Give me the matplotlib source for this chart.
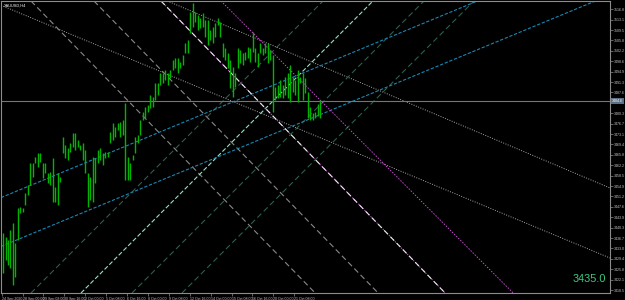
import numpy as np
import matplotlib
matplotlib.use("Agg")
from matplotlib import pyplot as plt
from matplotlib import transforms as mtrans

plt.rcParams['font.family'] = ['Liberation Sans', 'DejaVu Sans']

###--- H4 bars (high / low) ---###
highs = [3438.5, 3437.1, 3436.0, 3439.5, 3442.0, 3435.0, 3447.2, 3447.6, 3447.2, 3452.5,
         3455.3, 3463.0, 3463.0, 3465.1, 3466.5, 3466.5, 3463.0, 3463.0, 3459.5, 3459.8,
         3464.7, 3454.6, 3459.5, 3458.1, 3472.1, 3469.3, 3468.2, 3470.0, 3473.5, 3473.5,
         3471.0, 3469.3, 3470.0, 3467.5, 3459.5, 3458.1, 3465.1, 3464.7, 3467.5, 3468.2,
         3466.5, 3466.8, 3466.8, 3473.8, 3477.0, 3475.6, 3477.0, 3477.3, 3478.0, 3484.0,
         3465.1, 3463.0, 3465.8, 3472.1, 3472.8, 3478.0, 3480.8, 3482.6, 3483.3, 3486.8,
         3486.1, 3491.0, 3491.0, 3494.5, 3494.5, 3495.5, 3494.5, 3495.5, 3499.0, 3499.7,
         3499.7, 3498.3, 3500.8, 3505.0, 3506.0, 3515.8, 3519.0, 3515.8, 3514.8, 3513.7,
         3515.5, 3513.0, 3513.0, 3509.5, 3510.6, 3512.0, 3513.7, 3512.3, 3505.0, 3503.2,
         3501.5, 3499.0, 3496.6, 3494.5, 3503.2, 3502.5, 3501.5, 3501.8, 3503.6, 3503.2,
         3508.8, 3503.2, 3501.5, 3505.0, 3503.2, 3505.0, 3505.0, 3502.5, 3500.8, 3489.6,
         3490.3, 3492.0, 3490.3, 3493.1, 3494.5, 3497.3, 3493.1, 3492.0, 3495.5, 3493.1,
         3494.5, 3492.7, 3487.8, 3482.6, 3480.5, 3480.8, 3483.6, 3485.0]
lows = [3424.5, 3429.0, 3427.3, 3426.2, 3420.3, 3423.1, 3436.0, 3445.5, 3445.8, 3448.3,
        3451.8, 3455.3, 3458.1, 3463.0, 3461.6, 3463.3, 3457.7, 3459.5, 3456.0, 3455.3,
        3449.3, 3449.3, 3448.3, 3456.3, 3466.5, 3464.7, 3464.0, 3466.8, 3468.6, 3467.5,
        3468.6, 3467.5, 3464.0, 3459.5, 3447.6, 3450.0, 3449.3, 3456.0, 3463.0, 3464.0,
        3462.3, 3464.7, 3465.1, 3470.0, 3471.0, 3472.1, 3474.5, 3472.1, 3472.8, 3457.0,
        3457.0, 3457.0, 3464.0, 3466.5, 3470.0, 3472.8, 3478.0, 3478.7, 3480.8, 3482.2,
        3482.6, 3485.0, 3486.8, 3490.3, 3491.0, 3492.0, 3490.3, 3492.7, 3495.5, 3496.2,
        3494.5, 3496.2, 3497.3, 3501.5, 3501.5, 3508.5, 3510.6, 3512.3, 3509.5, 3510.2,
        3510.6, 3507.1, 3504.3, 3506.0, 3505.0, 3507.1, 3511.3, 3507.1, 3500.1, 3499.0,
        3496.2, 3489.2, 3486.1, 3489.6, 3496.2, 3498.0, 3497.3, 3499.0, 3499.7, 3498.3,
        3501.8, 3498.3, 3496.6, 3501.5, 3500.8, 3501.5, 3498.0, 3499.0, 3480.8, 3485.0,
        3485.7, 3486.1, 3485.7, 3486.8, 3485.7, 3484.3, 3487.8, 3486.8, 3484.3, 3491.0,
        3485.0, 3487.5, 3478.7, 3478.0, 3478.0, 3478.7, 3479.4, 3478.7]

time_labels = ["24 Sep 2020", "28 Sep 00:00", "29 Sep 08:00", "30 Sep 16:00", "2 Oct 00:00",
               "5 Oct 08:00", "6 Oct 16:00", "8 Oct 00:00", "9 Oct 08:00", "12 Oct 16:00",
               "14 Oct 00:00", "15 Oct 08:00", "16 Oct 16:00", "20 Oct 00:00", "21 Oct 08:00"]

###--- Chart objects: two anchors (bar, price) each ---###
dotted_gray = [[(-1.2, 3518.3), (242.8, 3429.7)],
               [(64.8, 3520.0), (242.8, 3454.2)]]
dashed_gray = [[(10.8, 3520.0), (124.8, 3417.5)],
               [(36.0, 3520.0), (150.0, 3417.5)]]
dashed_white = [[(62.8, 3520.0), (176.8, 3417.5)]]
magenta = [[(86.8, 3520.0), (204.0, 3417.5)],
           [(62.8, 3520.0), (176.8, 3417.5)]]
blue_lines = [[(-1.2, 3450.7), (188.8, 3519.3)],
              [(-1.2, 3433.6), (236.0, 3519.3)]]
green_lines = [[(11.6, 3417.8), (128.4, 3520.0)],
               [(52.0, 3417.8), (168.8, 3520.0)],
               [(72.0, 3417.8), (188.8, 3520.0)]]
aqua_lines = [[(31.6, 3417.8), (148.4, 3520.0)]]
hline_price = 3484.6
big_value = "3435.0"

###--- Figure ---###
fig = plt.figure(figsize=(6.25, 3.0), dpi=100)
fig.patch.set_facecolor('black')
ax = fig.add_axes([1/625, 7/300, 609/625, 292/300])
ax.set_facecolor('black')
ax.set_xlim(-0.8, 242.8)
ax.set_ylim(3417.45, 3519.65)

def draw(lines, **kw):
    for p1, p2 in lines:
        ax.axline(p1, p2, **kw)

draw(dotted_gray, color='#a8a8a8', lw=0.7, dashes=(1, 1.5))
draw(dashed_gray, color='#8a8a8a', lw=0.8, dashes=(5, 3))
draw(green_lines, color='#2f5e4c', lw=0.8, dashes=(5, 3))
draw(aqua_lines, color='#8ee6c4', lw=0.8, dashes=(4, 2))
draw(blue_lines, color='#1c86b0', lw=0.8, dashes=(3, 1.5))
draw(magenta, color='#c050c8', lw=0.7, dashes=(1.5, 1.5))
draw(dashed_white, color='#eeeeee', lw=0.8, dashes=(5, 3))
ax.axhline(hline_price, color='#6e7680', lw=0.8)

x = np.arange(len(highs))
ax.vlines(x, lows, highs, color='#00b400', lw=1.0, zorder=5)

# frame
for s in ax.spines.values():
    s.set_color('#8c8c8c')
    s.set_linewidth(0.8)

# price scale (the tick under the price box is hidden)
yt = 3516.75 - 3.64*np.arange(28)
yt = yt[np.abs(yt - hline_price) > 2.5]
ax.yaxis.tick_right()
ax.set_yticks(yt)
ax.set_yticklabels(["%.1f" % v for v in yt], fontsize=2.6, color='#c8c8c8')
ax.tick_params(axis='y', length=2, width=0.5, color='#8c8c8c', pad=1)

# time scale
xt = -0.52 + 8.36*np.arange(len(time_labels))
ax.set_xticks(xt)
ax.set_xticklabels(time_labels, fontsize=2.6, color='#c8c8c8', ha='left')
ax.tick_params(axis='x', length=2, width=0.5, color='#8c8c8c', pad=1)

ax.text(1.003, hline_price, "%.1f" % hline_price, transform=mtrans.blended_transform_factory(ax.transAxes, ax.transData),
        fontsize=2.6, color='white', va='center', ha='left',
        bbox=dict(facecolor='#5c7088', edgecolor='none', pad=0.6))

ax.text(0.004, 0.992, "XAUUSD,H4", transform=ax.transAxes, fontsize=2.8, color='white', va='top', ha='left')
ax.text(0.993, 0.03, big_value, transform=ax.transAxes, fontsize=7.8, color='#3ccc80', va='bottom', ha='right')

plt.savefig("out.png", dpi=100, facecolor='black')
plt.close()
